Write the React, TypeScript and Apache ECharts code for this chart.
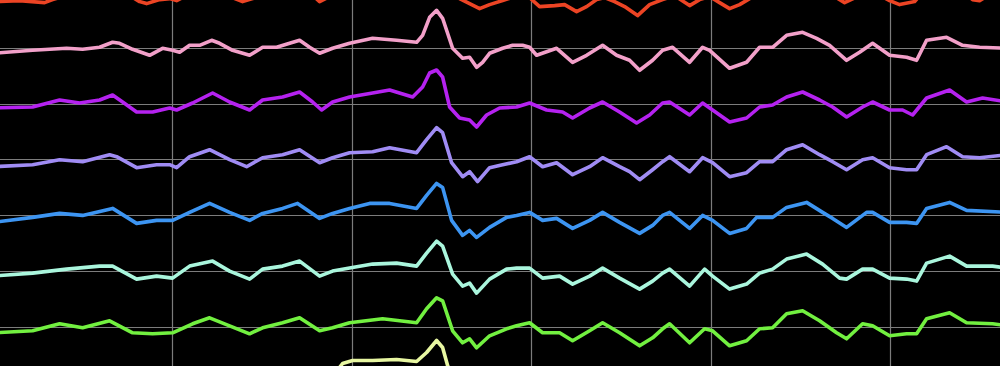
import React, { useEffect, useRef } from "react";
import * as echarts from "echarts";

// Sample index (1 sample ≈ 1 px) and amplitude (µV, negative = up, EEG convention)
const channelNames = ["Ch1", "Ch2", "Ch3", "Ch4", "Ch5", "Ch6", "Ch7", "Ch8"];
const channelColors = ["#ec4424", "#f2a0c9", "#b522f0", "#a08cf4", "#3d95f2", "#aaf6dd", "#72f040", "#e8f7a2"];

const ch1: [number, number][] = [[0,9],[27,8],[52,10],[60,7],[77,2],[107,-3],[120,-8],[132,0],[147,9],[154,11],[167,7],[177,6],[184,8],[192,4],[207,-4],[219,-10],[232,2],[250,9],[260,6],[277,0],[297,-6],[307,-10],[317,0],[327,9],[337,4],[357,-5],[387,-10],[407,-12],[427,-20],[444,-45],[457,-5],[467,6],[477,11],[487,16],[497,12],[510,8],[522,4],[537,5],[547,14],[562,13],[572,12],[584,19],[594,14],[604,7],[612,5],[622,9],[632,14],[645,23],[657,12],[670,7],[682,3],[697,13],[707,7],[717,4],[727,10],[737,16],[747,12],[757,6],[772,0],[794,-12],[812,-15],[832,-2],[852,10],[867,3],[882,0],[897,8],[907,12],[922,9],[934,-5],[957,-12],[980,7],[987,8],[997,2],[1015,0]];

const ch2: [number, number][] = [[0,5],[40,2],[74,0],[90,1],[107,-1],[120,-6],[127,-5],[140,1],[157,7],[170,0],[180,2],[187,4],[197,-3],[207,-3],[219,-8],[227,-5],[240,2],[257,7],[270,-1],[284,-1],[297,-5],[307,-8],[317,-1],[327,5],[340,0],[357,-5],[380,-10],[404,-8],[424,-6],[430,-13],[437,-31],[444,-38],[450,-30],[455,-15],[460,0],[470,10],[477,9],[484,19],[490,14],[497,5],[510,0],[520,-3],[530,-3],[537,-1],[544,7],[564,0],[580,14],[594,7],[610,-3],[624,7],[637,12],[647,22],[660,12],[670,2],[680,-1],[697,14],[710,-1],[717,2],[737,20],[754,14],[767,-1],[780,-1],[794,-13],[810,-16],[824,-10],[837,-3],[854,12],[867,4],[880,-5],[897,7],[914,9],[924,12],[934,-8],[954,-11],[970,-3],[987,-1],[1015,0]];

const ch3: [number, number][] = [[0,4],[40,3],[67,-4],[87,-1],[107,-4],[120,-9],[130,-2],[144,8],[160,8],[177,4],[184,6],[200,-1],[220,-11],[237,-2],[257,6],[270,-4],[290,-7],[307,-12],[320,-2],[329,6],[340,-2],[357,-7],[380,-11],[397,-14],[420,-7],[430,-17],[437,-31],[444,-34],[450,-27],[457,3],[467,14],[477,16],[484,23],[494,11],[507,4],[524,3],[537,-1],[554,6],[570,8],[580,14],[597,4],[610,-2],[627,8],[644,19],[657,11],[670,-1],[677,-2],[697,11],[710,-1],[720,6],[737,18],[754,14],[767,3],[780,1],[794,-7],[810,-12],[827,-4],[840,3],[854,13],[870,3],[880,-2],[897,6],[910,6],[920,11],[934,-6],[957,-14],[974,-2],[990,-6],[1015,-2]];

const ch4: [number, number][] = [[0,7],[40,5],[67,0],[90,2],[117,-5],[124,-3],[144,8],[164,5],[177,5],[184,8],[197,-3],[217,-10],[237,0],[254,7],[270,-2],[290,-5],[307,-10],[327,3],[340,-2],[357,-7],[380,-8],[397,-12],[424,-7],[434,-20],[444,-32],[450,-27],[459,3],[470,17],[477,12],[485,22],[497,8],[510,5],[524,2],[537,-3],[550,7],[564,3],[580,15],[597,7],[610,-2],[627,7],[637,12],[647,20],[660,10],[670,2],[677,-3],[697,12],[710,-2],[720,3],[737,17],[754,13],[767,2],[780,2],[794,-10],[810,-15],[827,-5],[840,2],[854,10],[870,0],[880,-2],[897,8],[914,10],[924,10],[934,-5],[954,-13],[970,-3],[987,-2],[1015,-5]];

const ch5: [number, number][] = [[0,7],[40,2],[67,-2],[90,0],[120,-7],[144,8],[164,5],[180,5],[197,-3],[217,-12],[237,-3],[257,5],[270,-2],[290,-7],[305,-12],[327,3],[340,-2],[357,-7],[377,-12],[397,-12],[424,-7],[434,-20],[444,-32],[450,-28],[459,5],[470,20],[477,15],[484,22],[497,12],[514,2],[524,0],[537,-3],[550,5],[564,3],[580,13],[597,5],[610,-3],[627,7],[647,18],[660,10],[670,0],[677,-3],[697,13],[710,0],[720,5],[737,18],[754,13],[764,2],[780,2],[794,-8],[814,-13],[830,-3],[840,3],[854,12],[874,-3],[880,-3],[897,7],[914,7],[924,8],[934,-7],[957,-13],[974,-5],[1015,-3]];

const ch6: [number, number][] = [[0,5],[40,2],[74,-2],[107,-5],[120,-5],[144,8],[164,5],[180,7],[197,-5],[220,-10],[237,0],[257,8],[270,-2],[290,-5],[307,-10],[327,5],[340,0],[357,-3],[380,-7],[404,-8],[424,-5],[434,-18],[444,-30],[450,-25],[460,3],[470,15],[477,12],[484,22],[497,8],[514,-2],[524,-3],[537,-3],[550,7],[567,5],[580,13],[597,5],[610,-3],[627,7],[647,18],[660,10],[670,2],[677,-2],[697,15],[712,-2],[720,5],[737,18],[754,13],[767,2],[780,-2],[794,-12],[814,-17],[830,-7],[847,7],[854,8],[870,-2],[880,-2],[897,7],[914,8],[924,10],[934,-8],[957,-15],[974,-5],[1000,-5],[1015,-3]];

const ch7: [number, number][] = [[0,6],[40,4],[67,-3],[90,1],[117,-6],[140,6],[160,7],[180,6],[200,-3],[217,-9],[237,-1],[257,7],[270,1],[290,-4],[307,-9],[327,4],[340,1],[357,-4],[390,-8],[424,-4],[434,-18],[444,-29],[450,-26],[460,4],[470,16],[477,12],[484,21],[497,9],[514,2],[524,-1],[537,-4],[550,6],[567,6],[580,14],[597,4],[610,-4],[627,6],[647,19],[660,11],[670,2],[677,-3],[697,16],[712,2],[720,4],[737,19],[754,14],[767,2],[780,1],[794,-13],[810,-16],[827,-6],[844,6],[854,12],[870,-3],[880,-1],[897,9],[914,7],[924,7],[934,-8],[957,-14],[974,-4],[1000,-3],[1015,-1]];

const ch8: [number, number][] = [[0,4],[40,3],[67,-2],[90,1],[117,-4],[140,5],[160,5],[180,4],[200,-2],[217,-6],[237,0],[257,5],[270,1],[290,-3],[307,-6],[327,3],[340,-6],[350,-19],[360,-22],[380,-22],[404,-23],[424,-21],[434,-30],[444,-42],[450,-35],[455,-17],[462,0],[470,12],[477,10],[484,18],[497,8],[514,2],[524,-1],[537,-3],[550,5],[567,5],[580,11],[597,3],[610,-3],[627,5],[647,15],[660,9],[670,2],[677,-2],[697,12],[712,1],[720,3],[737,15],[754,11],[767,2],[780,1],[794,-8],[810,-10],[827,-4],[844,5],[854,9],[870,-2],[880,-1],[897,7],[914,5],[924,5],[934,-5],[957,-9],[974,-3],[1000,-2],[1015,-1]];

const channels = [ch1, ch2, ch3, ch4, ch5, ch6, ch7, ch8];

// channel spacing on the stacked amplitude axis
const CHANNEL_GAP = 55.7;
const X_DIVISION = 179.6;

export default function App() {
  const ref = useRef<HTMLDivElement>(null);
  useEffect(() => {
    if (!ref.current) return;
    const chart = echarts.init(ref.current, undefined, { renderer: "svg" });
    const series = channels.map((d, k) => ({
      name: channelNames[k],
      type: "line",
      data: d.map(([t, v]) => [t, (k + 1) * CHANNEL_GAP + v]),
      showSymbol: false,
      symbol: "none",
      silent: true,
      clip: true,
      lineStyle: { color: channelColors[k], width: 3.6, join: "round" },
      z: 3,
    }));
    chart.setOption({
      animation: false,
      backgroundColor: "#000000",
      grid: {
        left: -7.4,
        top: -63.1,
        width: 1020,
        height: 8 * CHANNEL_GAP,
        outerBoundsMode: "none",
        containLabel: false,
      },
      xAxis: {
        type: "value",
        min: 0,
        max: 1020,
        interval: X_DIVISION,
        axisLine: { show: false },
        axisTick: { show: false },
        axisLabel: { show: false },
        splitLine: { show: true, lineStyle: { color: "#7c7c7c", width: 1.2 } },
      },
      yAxis: {
        type: "value",
        inverse: true,
        min: 0,
        max: 8 * CHANNEL_GAP,
        interval: CHANNEL_GAP,
        axisLine: { show: false },
        axisTick: { show: false },
        axisLabel: { show: false },
        splitLine: { show: true, lineStyle: { color: "#7c7c7c", width: 1.2 } },
      },
      series,
    });
    return () => chart.dispose();
  }, []);
  return (
    <div
      ref={ref}
      style={{ position: "fixed", left: 0, top: 0, width: 1000, height: 366, background: "#000" }}
    />
  );
}
